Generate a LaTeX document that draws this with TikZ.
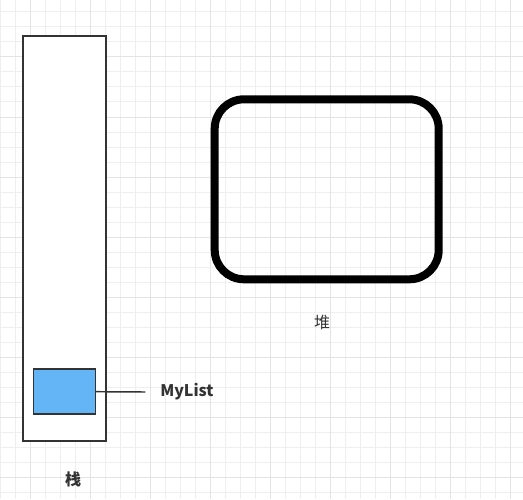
\documentclass[tikz,border=0pt]{standalone}
\usepackage{fontspec}
\newfontfamily\cjk{Noto Sans CJK SC}
\usetikzlibrary{positioning, calc}
\definecolor{gridminor}{HTML}{EFEFEF}
\definecolor{gridmajor}{HTML}{E4E4E4}
\definecolor{ink}{HTML}{333333}
\definecolor{itemblue}{HTML}{64B5F6}
\tikzset{
  x=0.75pt, y=-0.75pt,
  stackbox/.style={rectangle, draw=ink, line width=1.1pt, fill=white,
              minimum width=62.25pt, minimum height=303.75pt, inner sep=0pt},
  itembox/.style={rectangle, draw=ink, line width=1.1pt, fill=itemblue,
              minimum width=46.5pt, minimum height=33.75pt, inner sep=0pt},
  heapbox/.style={rectangle, rounded corners=22pt, draw=black, line width=6pt,
              minimum width=168pt, minimum height=135pt, inner sep=0pt},
  lbl/.style={font=\cjk\fontsize{12pt}{14pt}\selectfont\bfseries, text=ink, inner sep=0pt},
  link/.style={draw=ink, line width=1.1pt},
}
\begin{document}
\begin{tikzpicture}
  \fill[white] (0,0) rectangle (523,499);
  \useasboundingbox (0,0) rectangle (523,499);
  % grid
  \foreach \x in {0,15,...,520}
    \draw[gridminor, line width=0.75pt] (\x,0) -- (\x,499);
  \foreach \y in {12,27,...,499}
    \draw[gridminor, line width=0.75pt] (0,\y) -- (523,\y);
  \foreach \x in {30,90,...,520}
    \draw[gridmajor, line width=0.75pt] (\x,0) -- (\x,499);
  \foreach \y in {57,117,...,499}
    \draw[gridmajor, line width=0.75pt] (0,\y) -- (523,\y);
  % stack and heap
  \node[stackbox] (stack) at (64.5,238.5) {};
  \node[itembox] (item) at (64.3,391.7) {};
  \node[heapbox] (heap) at (326.7,189.3) {};
  \node[lbl] (stacklbl) at (73,479) {栈};
  \node[lbl, font=\cjk\fontsize{12pt}{14pt}\selectfont] (heaplbl) at (322,322) {堆};
  \node[lbl, anchor=west] (mylist) at (160,392) {MyList};
  \draw[link] (item.east) -- ([xshift=-11pt]mylist.west);
\end{tikzpicture}
\end{document}
